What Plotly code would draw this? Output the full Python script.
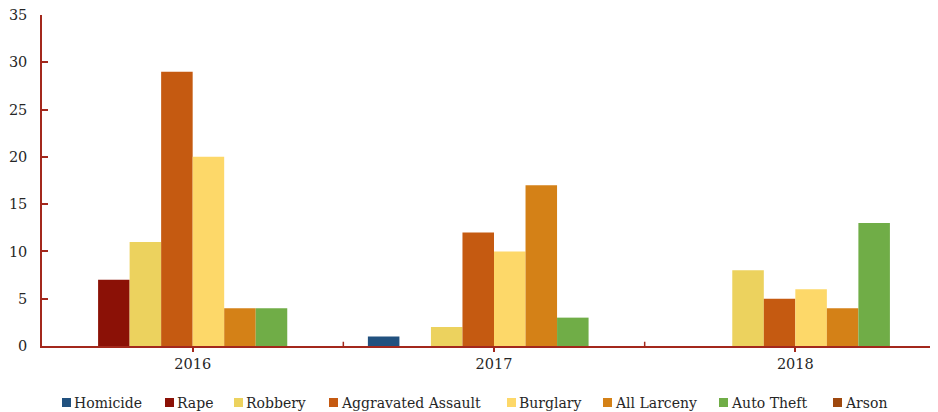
import plotly.graph_objects as go

years = ["2016", "2017", "2018"]
series_names = ["Homicide", "Rape", "Robbery", "Aggravated Assault", "Burglary",
                "All Larceny", "Auto Theft", "Arson"]
homicide = [0, 1, 0]
rape = [7, 0, 0]
robbery = [11, 2, 8]
aggravated_assault = [29, 12, 5]
burglary = [20, 10, 6]
all_larceny = [4, 17, 4]
auto_theft = [4, 3, 13]
arson = [0, 0, 0]
y_ticks = [0, 5, 10, 15, 20, 25, 30, 35]

values = [homicide, rape, robbery, aggravated_assault, burglary, all_larceny, auto_theft, arson]
colors = ["#21517F", "#8B1106", "#ECD25E", "#C55A11", "#FDD869", "#D48117", "#70AD47", "#9E480E"]

font_family = "DejaVu Serif"
axis_color = "#A3281C"
text_color = "#262626"

# layout geometry (figure pixels; the page places the figure 8px in from the corner)
W, H = 938, 412
OFF = 8
L, R, T, B = 42 - OFF, 0, 15 - OFF, H - (346 - OFF)
plot_w = W - L - R
plot_h = H - T - B

fig = go.Figure()
for name, vals, col in zip(series_names, values, colors):
    fig.add_trace(go.Bar(x=years, y=vals, name=name, marker=dict(color=col, line=dict(width=0)),
                         showlegend=False))

# category boundary tick marks (point up, inside)
for b in [0.5, 1.5]:
    fig.add_shape(type="line", xref="x", yref="y", x0=b, x1=b, y0=0, y1=0.45,
                  line=dict(color=axis_color, width=1.5))

# custom legend row (small squares followed by text)
legend_left_px = [62, 165, 234, 329, 507, 603, 719, 833]
legend_y_px = 402.5
sq = 9
for name, col, px in zip(series_names, colors, legend_left_px):
    fx = px - OFF
    fy = legend_y_px - OFF
    x0 = (fx - L) / plot_w
    x1 = (fx + sq - L) / plot_w
    y0 = (H - B - (fy - sq / 2)) / plot_h
    y1 = (H - B - (fy + sq / 2)) / plot_h
    fig.add_shape(type="rect", xref="paper", yref="paper", x0=x0, x1=x1, y0=y0, y1=y1,
                  fillcolor=col, line=dict(width=0), layer="above")
    fig.add_annotation(xref="paper", yref="paper", x=(fx + sq + 1 - L) / plot_w,
                       y=(H - B - fy) / plot_h, xanchor="left", yanchor="middle",
                       text=name, showarrow=False, font=dict(family=font_family, size=14, color=text_color))

fig.update_layout(
    width=W, height=H,
    barmode="group", bargap=0.163, bargroupgap=0,
    plot_bgcolor="white", paper_bgcolor="white",
    margin=dict(l=L, r=R, t=T, b=B, autoexpand=False),
    font=dict(family=font_family, size=14, color=text_color),
    showlegend=False,
)
fig.update_xaxes(range=[-0.5, 2.5], showline=True, linecolor=axis_color, linewidth=1.5,
                 ticks="outside", tickcolor=axis_color, ticklen=4, tickwidth=1.5,
                 tickfont=dict(size=14.5), showgrid=False, automargin=False)
fig.update_yaxes(range=[0, 35], tickvals=y_ticks, showline=True, linecolor=axis_color,
                 linewidth=1.5, ticks="inside", tickcolor=axis_color, ticklen=6, tickwidth=1.5,
                 showgrid=False, zeroline=False, tickfont=dict(size=14.5), automargin=False,
                 ticklabelstandoff=10, ticklabeloverflow="allow")

fig.write_html("out.html")
